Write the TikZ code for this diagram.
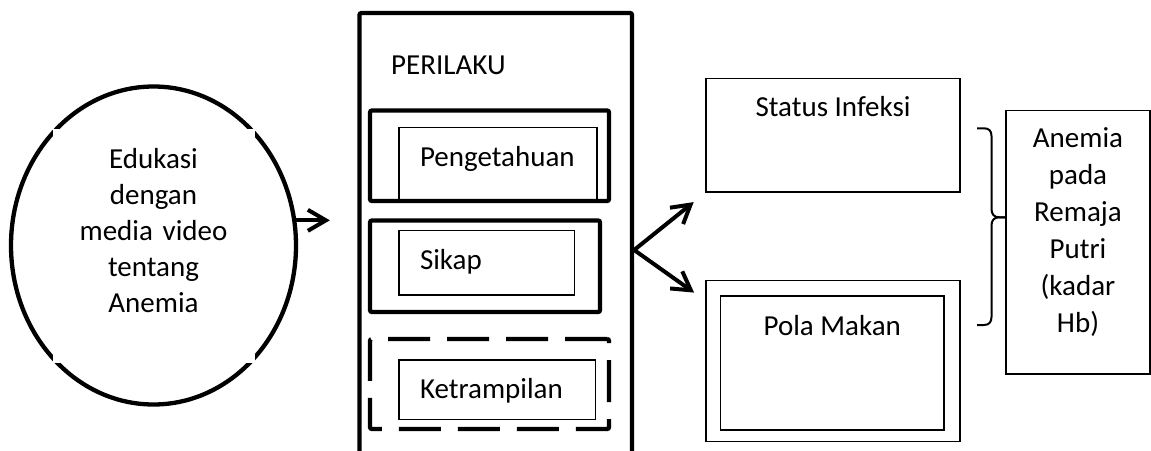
\documentclass[tikz,border=0pt]{standalone}
\usepackage{fontspec}
\setmainfont{Carlito}
\usetikzlibrary{positioning,calc,arrows.meta,shapes.geometric}

\begin{document}
\begin{tikzpicture}[x=1pt,y=-1pt]
    \tikzstyle{every node}=[inner sep=0,font=\fontsize{29}{36}\selectfont]
    \tikzstyle{heavy box}=[draw,rectangle,line width=4.3,rounded corners=2]
    \tikzstyle{light box}=[draw,rectangle,line width=1.3]
    \tikzstyle{sub item}=[draw,rectangle,line width=1.2,align=left]
    \tikzstyle{arr}=[line width=4,line cap=round,-{Straight Barb[length=18pt,width=21pt]}]
    \useasboundingbox (0,0) rectangle (1151,450);
    {
        % left: the treatment
        \node[ellipse,draw,line width=4.3,minimum width=285,minimum height=318] (edu) at (153.5,245.5) {};
        \node[fill=white,minimum width=202,minimum height=234,text width=200,align=center,
              text height=20pt,text depth=174.4pt] (edutext) at (edu.center)
              {Edukasi\\dengan\\media video\\tentang\\Anemia};

        % middle: behaviour column
        \node[heavy box,minimum width=272.5,minimum height=474] (perilaku) at (495.75,250) {};
        \node[anchor=base west] (perilakulabel) at (391,74) {PERILAKU};

        \node[sub item,minimum width=198,minimum height=72.7,text width=156,
              text height=20pt,text depth=15.3pt] (peng) at (498,163.65) {Pengetahuan};
        \node[heavy box,minimum width=239,minimum height=90.5] (pengbox) at (489.5,155.75) {};

        \node[sub item,minimum width=175.7,minimum height=64.3,text width=133.7,
              text height=20pt,text depth=7.1pt] (sikap) at (486.85,262.85) {Sikap};
        \node[heavy box,minimum width=230,minimum height=91.5] (sikapbox) at (485,266.25) {};

        \node[sub item,minimum width=196.3,minimum height=59.3,text width=154.3,
              text height=20pt,text depth=2.7pt] (ket) at (497.15,389.65) {Ketrampilan};
        \node[heavy box,dash pattern=on 42pt off 17pt,minimum width=239,minimum height=90] (ketbox) at (489.5,384) {};

        % right: factors
        \node[light box,minimum width=254,minimum height=113.7,
              text height=20pt,text depth=58.4pt] (status) at (833,135.2) {Status Infeksi};
        \node[draw,rectangle,line width=1.8,minimum width=254,minimum height=161] (polaout) at (833,361) {};
        \node[draw,rectangle,line width=1.8,minimum width=223.5,minimum height=134,
              text height=20pt,text depth=74.6pt] (pola) at (832.25,363) {Pola Makan};

        % outcome
        \node[light box,minimum width=144,minimum height=263.3,text width=130,align=center,
              font=\fontsize{29}{37}\selectfont,text height=20pt,text depth=209.3pt] (anemia) at (1078,242.35)
              {Anemia\\pada\\Remaja\\Putri\\(kadar\\Hb)};

        % brace
        \draw[line width=2]
            (977,128.3) -- (984,128.3) .. controls (989,128.3) and (991.5,131) .. (991.5,136)
            -- (991.5,209) .. controls (991.5,214) and (994,217.3) .. (999,217.3) -- (anemia.west |- 0,217.3);
        \draw[line width=2]
            (anemia.west |- 0,217.3) -- (999,217.3) .. controls (994,217.3) and (991.5,220.5) .. (991.5,225.5)
            -- (991.5,317) .. controls (991.5,322) and (989,325) .. (984,325) -- (977,325);

        \path[arr]
            (edu.10) edge[shorten >=27.5pt] (edu.10 -| perilaku.west)
            (perilaku.east) edge[shorten >=15pt] (status.south west)
            (perilaku.east) edge ($(polaout.north west)+(-11,13)$);
    }
\end{tikzpicture}
\end{document}
